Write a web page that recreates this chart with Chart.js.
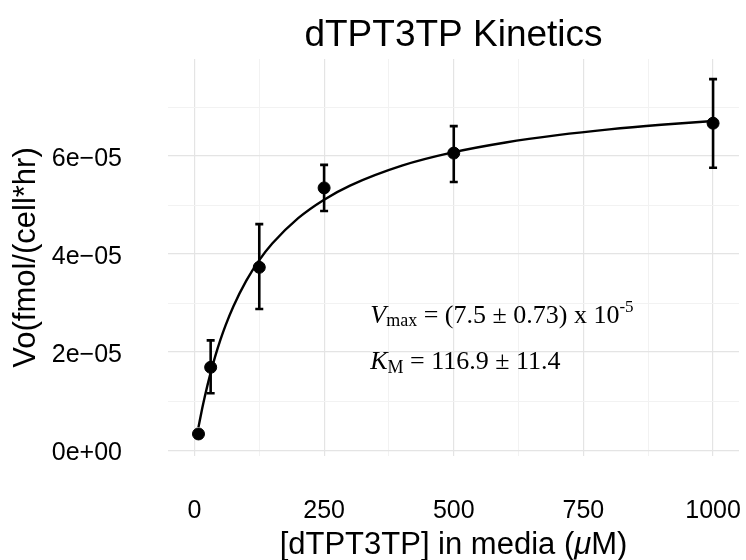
<!DOCTYPE html>
<html>
<head>
<meta charset="utf-8">
<script src="https://cdn.jsdelivr.net/npm/chart.js@4.4.1/dist/chart.umd.min.js"></script>
<style>
  html, body { margin: 0; background: #fff; }
</style>
</head>
<body>
<canvas id="grafico" width="746" height="560"></canvas>
<script>
// pontos medidos (uM, fmol/(cell*hr))
const concentracao = [7.8, 31.25, 125, 250, 500, 1000]
const velocidade = [3.3e-6, 1.69e-5, 3.73e-5, 5.35e-5, 6.06e-5, 6.67e-5]
const erroAlto = [3.6e-6, 2.24e-5, 4.61e-5, 5.82e-5, 6.61e-5, 7.57e-5]
const erroBaixo = [3.0e-6, 1.16e-5, 2.88e-5, 4.88e-5, 5.47e-5, 5.76e-5]

// curva ajustada
const ajusteX = [7.8, 10, 15, 20, 31.25, 40, 50, 60, 75, 100, 125, 150, 200, 250, 300, 400, 500, 600, 700, 800, 900, 1000]
const ajusteY = [4.69e-6, 5.91e-6, 8.53e-6, 1.096e-5, 1.582e-5, 1.912e-5, 2.247e-5, 2.544e-5, 2.931e-5, 3.458e-5,
  3.876e-5, 4.215e-5, 4.733e-5, 5.110e-5, 5.397e-5, 5.804e-5, 6.079e-5, 6.277e-5, 6.427e-5, 6.545e-5, 6.638e-5, 6.715e-5]

// eixos
const xMajor = [0, 250, 500, 750, 1000]
const xMinor = [125, 375, 625, 875]
const xLabels = ['0', '250', '500', '750', '1000']
const yMajor = [0, 2e-5, 4e-5, 6e-5]
const yMinor = [1e-5, 3e-5, 5e-5, 7e-5]
const yLabels = ['0e+00', '2e\u221205', '4e\u221205', '6e\u221205']

const serif = '"Liberation Serif", "Times New Roman", serif'
const sans = '"Liberation Sans", Arial, Helvetica, sans-serif'

function textoMisto(ctx, x, y, partes) {
  let cx = x
  partes.forEach(p => {
    ctx.font = p.font
    ctx.fillText(p.t, cx, y + (p.dy || 0))
    cx += ctx.measureText(p.t).width
  })
}

const extras = {
  id: 'extras',
  beforeDatasetsDraw(chart) {
    const ctx = chart.ctx
    const xs = chart.scales.x, ys = chart.scales.y
    ctx.save()
    ctx.strokeStyle = '#000'
    ctx.lineWidth = 2.6
    for (let i = 0; i < concentracao.length; i++) {
      const px = xs.getPixelForValue(concentracao[i])
      const top = ys.getPixelForValue(erroAlto[i])
      const bot = ys.getPixelForValue(erroBaixo[i])
      ctx.beginPath()
      ctx.moveTo(px, top); ctx.lineTo(px, bot)
      ctx.moveTo(px - 4, top); ctx.lineTo(px + 4, top)
      ctx.moveTo(px - 4, bot); ctx.lineTo(px + 4, bot)
      ctx.stroke()
    }
    ctx.restore()
  },
  afterDraw(chart) {
    const ctx = chart.ctx
    const area = chart.chartArea
    const xs = chart.scales.x, ys = chart.scales.y
    const meio = (area.left + area.right) / 2
    ctx.save()
    ctx.fillStyle = '#000'
    ctx.textBaseline = 'alphabetic'

    // titulo
    ctx.textAlign = 'center'
    ctx.font = '37px ' + sans
    ctx.fillText('dTPT3TP Kinetics', meio, 46)

    // titulo do eixo x
    ctx.textAlign = 'left'
    const partesX = [
      { t: '[dTPT3TP] in media (', font: '31px ' + sans },
      { t: '\u03bc', font: 'italic 31px ' + sans },
      { t: 'M)', font: '31px ' + sans }
    ]
    let larg = 0
    partesX.forEach(p => { ctx.font = p.font; larg += ctx.measureText(p.t).width })
    textoMisto(ctx, meio - larg / 2, 554, partesX)

    // anotacao
    const ax = xs.getPixelForValue(339)
    textoMisto(ctx, ax, ys.getPixelForValue(2.59e-5), [
      { t: 'V', font: 'italic 26px ' + serif },
      { t: 'max', font: '18px ' + serif, dy: 3 },
      { t: ' = (7.5 \u00b1 0.73) x 10', font: '26px ' + serif },
      { t: '-5', font: '17px ' + serif, dy: -11 }
    ])
    textoMisto(ctx, ax, ys.getPixelForValue(1.65e-5), [
      { t: 'K', font: 'italic 26px ' + serif },
      { t: 'M', font: '18px ' + serif, dy: 4 },
      { t: ' = 116.9 \u00b1 11.4', font: '26px ' + serif }
    ])
    ctx.restore()
  }
}

const ctx = document.getElementById('grafico').getContext('2d')
const meuGrafico = new Chart(ctx, {
  type: 'scatter',
  data: {
    datasets: [{
      label: 'ajuste',
      data: ajusteX.map((x, i) => ({ x: x, y: ajusteY[i] })),
      showLine: true,
      borderColor: '#000',
      borderWidth: 2.4,
      pointRadius: 0,
      cubicInterpolationMode: 'monotone',
      order: 2
    }, {
      label: 'Vo',
      data: concentracao.map((x, i) => ({ x: x, y: velocidade[i] })),
      backgroundColor: '#000',
      borderColor: '#000',
      pointRadius: 6,
      order: 1
    }]
  },
  options: {
    responsive: false,
    animation: false,
    devicePixelRatio: 1,
    layout: { padding: { top: 59, right: 5, left: 0, bottom: 0 } },
    scales: {
      x: {
        type: 'linear',
        min: -51,
        max: 1050,
        afterBuildTicks: s => { s.ticks = [...xMajor, ...xMinor].sort((a, b) => a - b).map(v => ({ value: v })) },
        afterFit: s => { s.height = 104; s.paddingLeft = 0; s.paddingRight = 0 },
        border: { display: false },
        grid: {
          drawTicks: false,
          color: c => xMajor.includes(c.tick.value) ? '#e4e4e4' : '#f2f2f2',
          lineWidth: c => xMajor.includes(c.tick.value) ? 1.2 : 1
        },
        ticks: {
          autoSkip: false,
          maxRotation: 0,
          padding: 40,
          color: '#000',
          font: { family: sans, size: 25 },
          callback: v => { const i = xMajor.indexOf(v); return i >= 0 ? xLabels[i] : '' }
        }
      },
      y: {
        type: 'linear',
        min: -1.2e-6,
        max: 7.98e-5,
        afterBuildTicks: s => { s.ticks = [...yMajor, ...yMinor].sort((a, b) => a - b).map(v => ({ value: v })) },
        afterFit: s => { s.width = 168; s.paddingTop = 0; s.paddingBottom = 0 },
        border: { display: false },
        grid: {
          drawTicks: false,
          color: c => yMajor.includes(c.tick.value) ? '#e4e4e4' : '#f2f2f2',
          lineWidth: c => yMajor.includes(c.tick.value) ? 1.2 : 1
        },
        ticks: {
          autoSkip: false,
          padding: 46,
          labelOffset: 3,
          color: '#000',
          font: { family: sans, size: 25 },
          callback: v => { const i = yMajor.indexOf(v); return i >= 0 ? yLabels[i] : '' }
        },
        title: {
          display: true,
          text: 'Vo(fmol/(cell*hr)',
          color: '#000',
          font: { family: sans, size: 31, lineHeight: 1.2 },
          padding: { top: 8, bottom: 0 }
        }
      }
    },
    plugins: {
      legend: { display: false },
      tooltip: { enabled: false }
    }
  },
  plugins: [extras]
})
</script>
</body>
</html>
